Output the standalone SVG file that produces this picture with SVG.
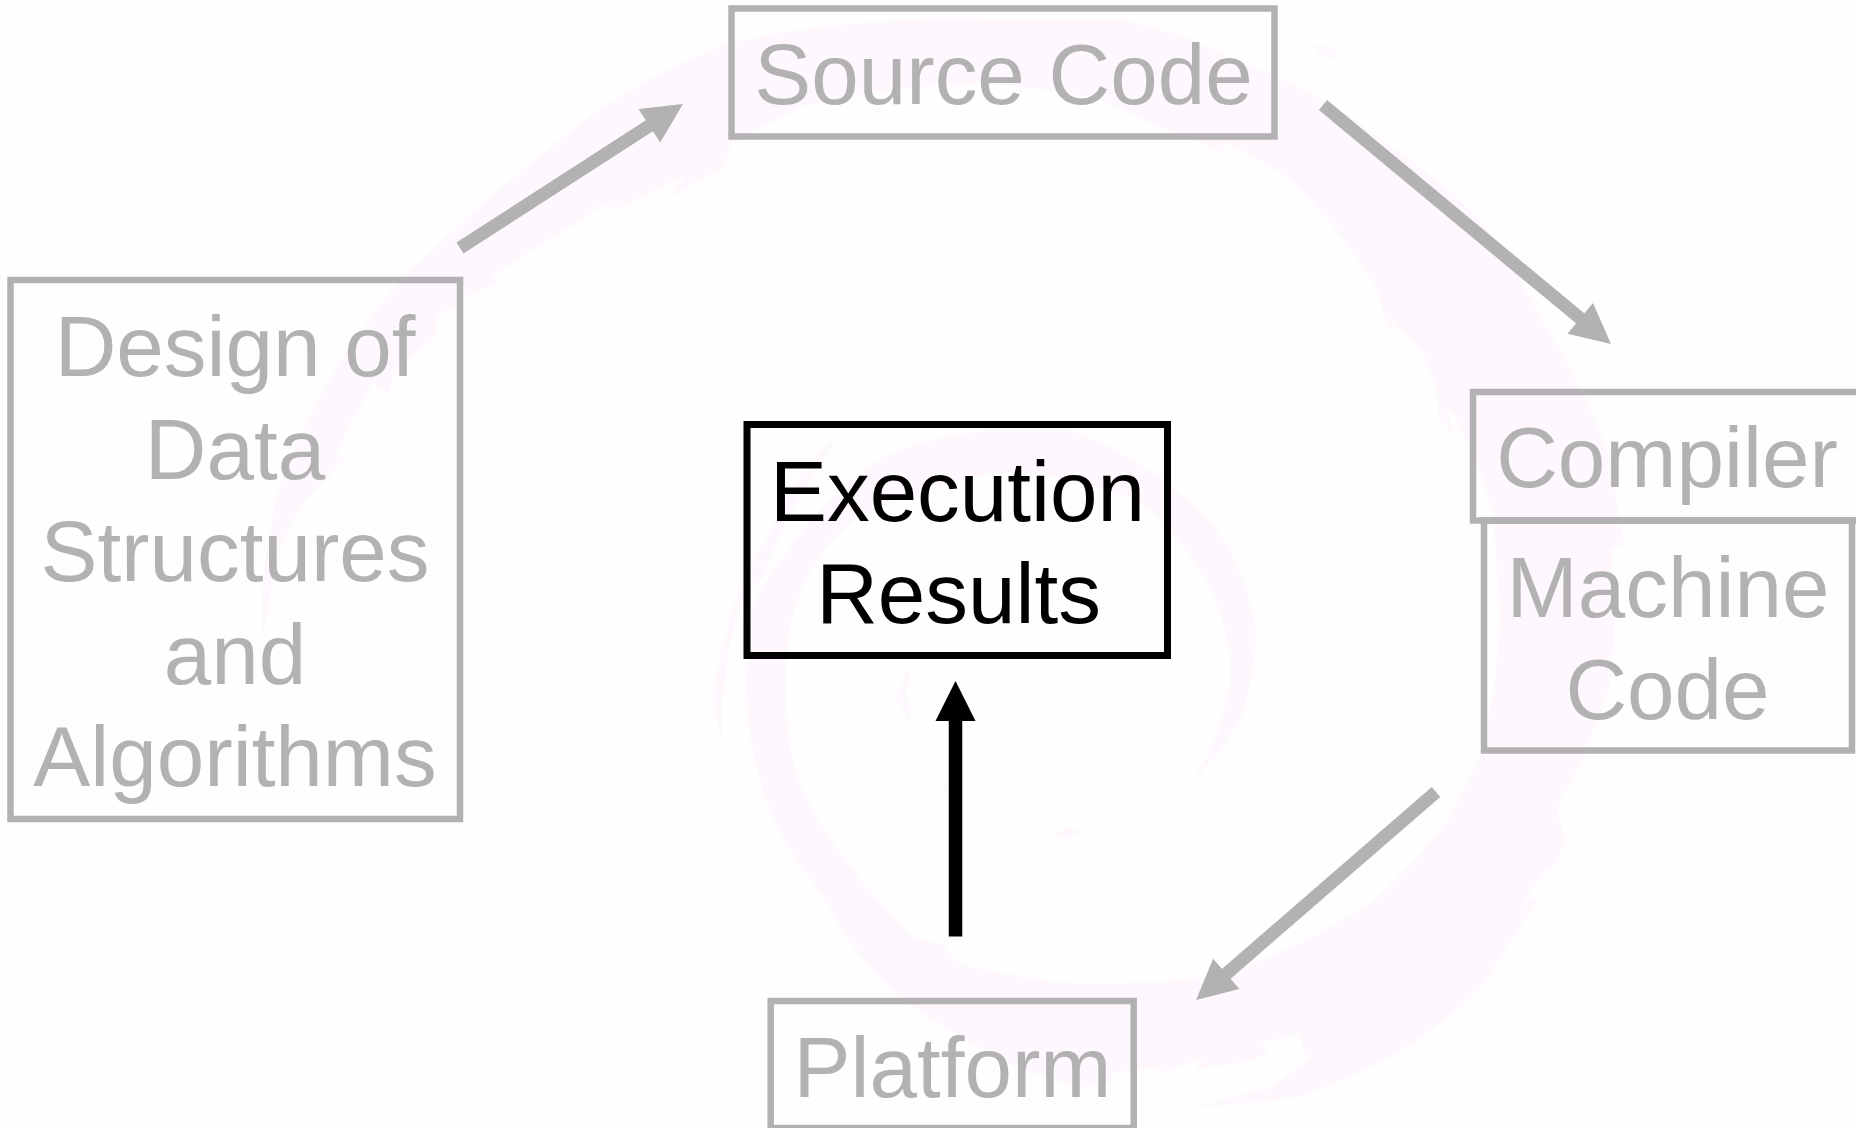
<svg xmlns="http://www.w3.org/2000/svg" width="1856" height="1128" viewBox="0 0 1856 1128">
<style>
.swirl{fill:#fef7fe;stroke:none}
.box{fill:none;stroke:#b2b2b2;stroke-width:6.5}
.box.on{stroke:#000;stroke-width:7}
text{font-family:"Liberation Sans",Arial,sans-serif;font-size:85.4px;text-anchor:middle;fill:#b2b2b2}
text.on{fill:#000}
.edge{fill:none;stroke:#b2b2b2;stroke-width:13}
.edge.on{stroke:#000;stroke-width:13.5}
</style>
<defs>
<marker id="headGrey" markerUnits="userSpaceOnUse" markerWidth="41" markerHeight="40" refX="1" refY="20" orient="auto" overflow="visible"><path d="M0,0L40,20L0,40Z" fill="#b2b2b2"/></marker>
<marker id="headBlack" markerUnits="userSpaceOnUse" markerWidth="41" markerHeight="40" refX="1" refY="20" orient="auto" overflow="visible"><path d="M0,0L40,20L0,40Z" fill="#000"/></marker>
</defs>
<rect width="1856" height="1128" fill="#fefefe"/>
<g id="swirl">
<path class="swirl" d="M263,639 Q259,580 272,518 Q282,470 304,429 Q325,385 347,350 Q375,312 401,279 L454,229 Q525,165 597,111 Q660,70 728,43 Q860,14 1000,20 L1121,20 Q1160,28 1189,39 L1296,86 Q1345,110 1386,143 Q1435,175 1475,214 Q1500,245 1521,282 L1564,357 Q1595,410 1611,464 L1625,547 L1611,547 Q1618,620 1610,683 Q1590,750 1557,807 L1565,840 L1557,863 L1543,873 L1521,907 L1543,890 Q1510,945 1479,990 Q1445,1022 1407,1047 Q1355,1078 1300,1097 L1186,1110 L1271,1087 L1311,1058 L1304,1053 L1300,1033 L1262,1043 L1268,1053 L1254,1060 L1193,1070 L1207,1055 L1164,1073 L1157,1067 L1114,1073 L1111,1083 L1083,1087 Q1040,1078 1000,1060 Q950,1032 907,1003 Q855,960 824,898 Q785,850 767,803 Q750,755 747,707 Q745,655 751,611 Q762,582 782,558 Q825,495 881,458 Q918,440 958,435 Q1018,425 1073,431 Q1115,447 1149,470 Q1195,500 1226,542 Q1252,590 1256,634 Q1254,680 1241,718 Q1220,755 1187,787 Q1212,755 1222,718 Q1232,690 1230,657 Q1224,615 1207,581 Q1182,540 1149,508 Q1112,488 1073,481 Q1035,470 996,474 Q955,478 920,493 Q882,503 851,523 Q826,545 809,573 Q794,603 789,634 Q784,670 786,707 Q788,745 797,776 Q810,810 832,841 Q870,895 912,937 L943,944 L958,963 Q985,972 1015,975 Q1055,984 1092,983 Q1150,984 1211,977 L1264,960 Q1320,935 1371,903 Q1410,867 1443,827 Q1465,790 1482,753 Q1498,680 1500,611 L1496,560 L1493,514 L1479,468 L1452,411 L1445,407 L1457,439 L1439,418 L1436,386 L1421,350 L1389,316 L1396,334 L1384,321 L1379,293 Q1358,256 1332,225 Q1307,194 1279,171 L1225,143 L1223,152 L1171,132 L1100,100 Q1020,82 950,85 Q870,90 800,107 L733,143 L722,168 L669,198 L686,175 L617,209 L604,204 L579,221 L490,277 L499,282 L469,296 L436,318 L436,337 L397,368 L388,393 L372,382 L363,404 L347,429 L336,461 L354,450 L300,507 L285,536 L276,561 Z"/>
<path class="swirl" d="M843,431 Q795,470 767,539 Q735,585 724,642 Q713,675 715,707 L722,749 Q720,715 724,688 Q728,645 740,604 Q748,590 763,577 Q795,490 843,431Z"/>
<path class="swirl" d="M1054,834L1069,827L1084,832L1068,838Z"/>
<path class="swirl" d="M910,665L895,699L912,722L906,695Z"/>
<path class="swirl" d="M1311,43L1337,50L1337,59L1321,55Z"/>
<path class="swirl" d="M942,785L988,800L945,790Z"/>
</g>
<g id="connectors">
<line class="edge" x1="460" y1="248" x2="650.2" y2="125.2" marker-end="url(#headGrey)"/>
<line class="edge" x1="1323" y1="105" x2="1581" y2="319.1" marker-end="url(#headGrey)"/>
<line class="edge" x1="1436" y1="792" x2="1225.5" y2="974.5" marker-end="url(#headGrey)"/>
<line class="edge on" x1="955.5" y1="936.5" x2="955.5" y2="720" marker-end="url(#headBlack)"/>
</g>
<g id="node-design">
<rect class="box" x="10.5" y="280" width="449.5" height="539"/>
<text x="235" y="376">Design of</text>
<text x="235" y="478.5">Data</text>
<text x="235" y="581">Structures</text>
<text x="235" y="683.5">and</text>
<text x="235" y="786">Algorithms</text>
</g>
<g id="node-source">
<rect class="box" x="731.5" y="8.5" width="543" height="128"/>
<text x="1003.5" y="104">Source Code</text>
</g>
<g id="node-compiler">
<rect class="box" x="1473" y="392" width="390" height="128.5"/>
<text x="1667" y="487">Compiler</text>
</g>
<g id="node-machine">
<rect class="box" x="1484" y="520.5" width="368" height="230"/>
<text x="1668" y="616.5">Machine</text>
<text x="1667.5" y="719">Code</text>
</g>
<g id="node-platform">
<rect class="box" x="770.7" y="1001" width="363" height="127"/>
<text x="952.5" y="1096.5">Platform</text>
</g>
<g id="node-execution">
<rect class="box on" x="747" y="424.5" width="420.5" height="231"/>
<text class="on" x="957.5" y="520.5">Execution</text>
<text class="on" x="958.5" y="623">Results</text>
</g>
</svg>
